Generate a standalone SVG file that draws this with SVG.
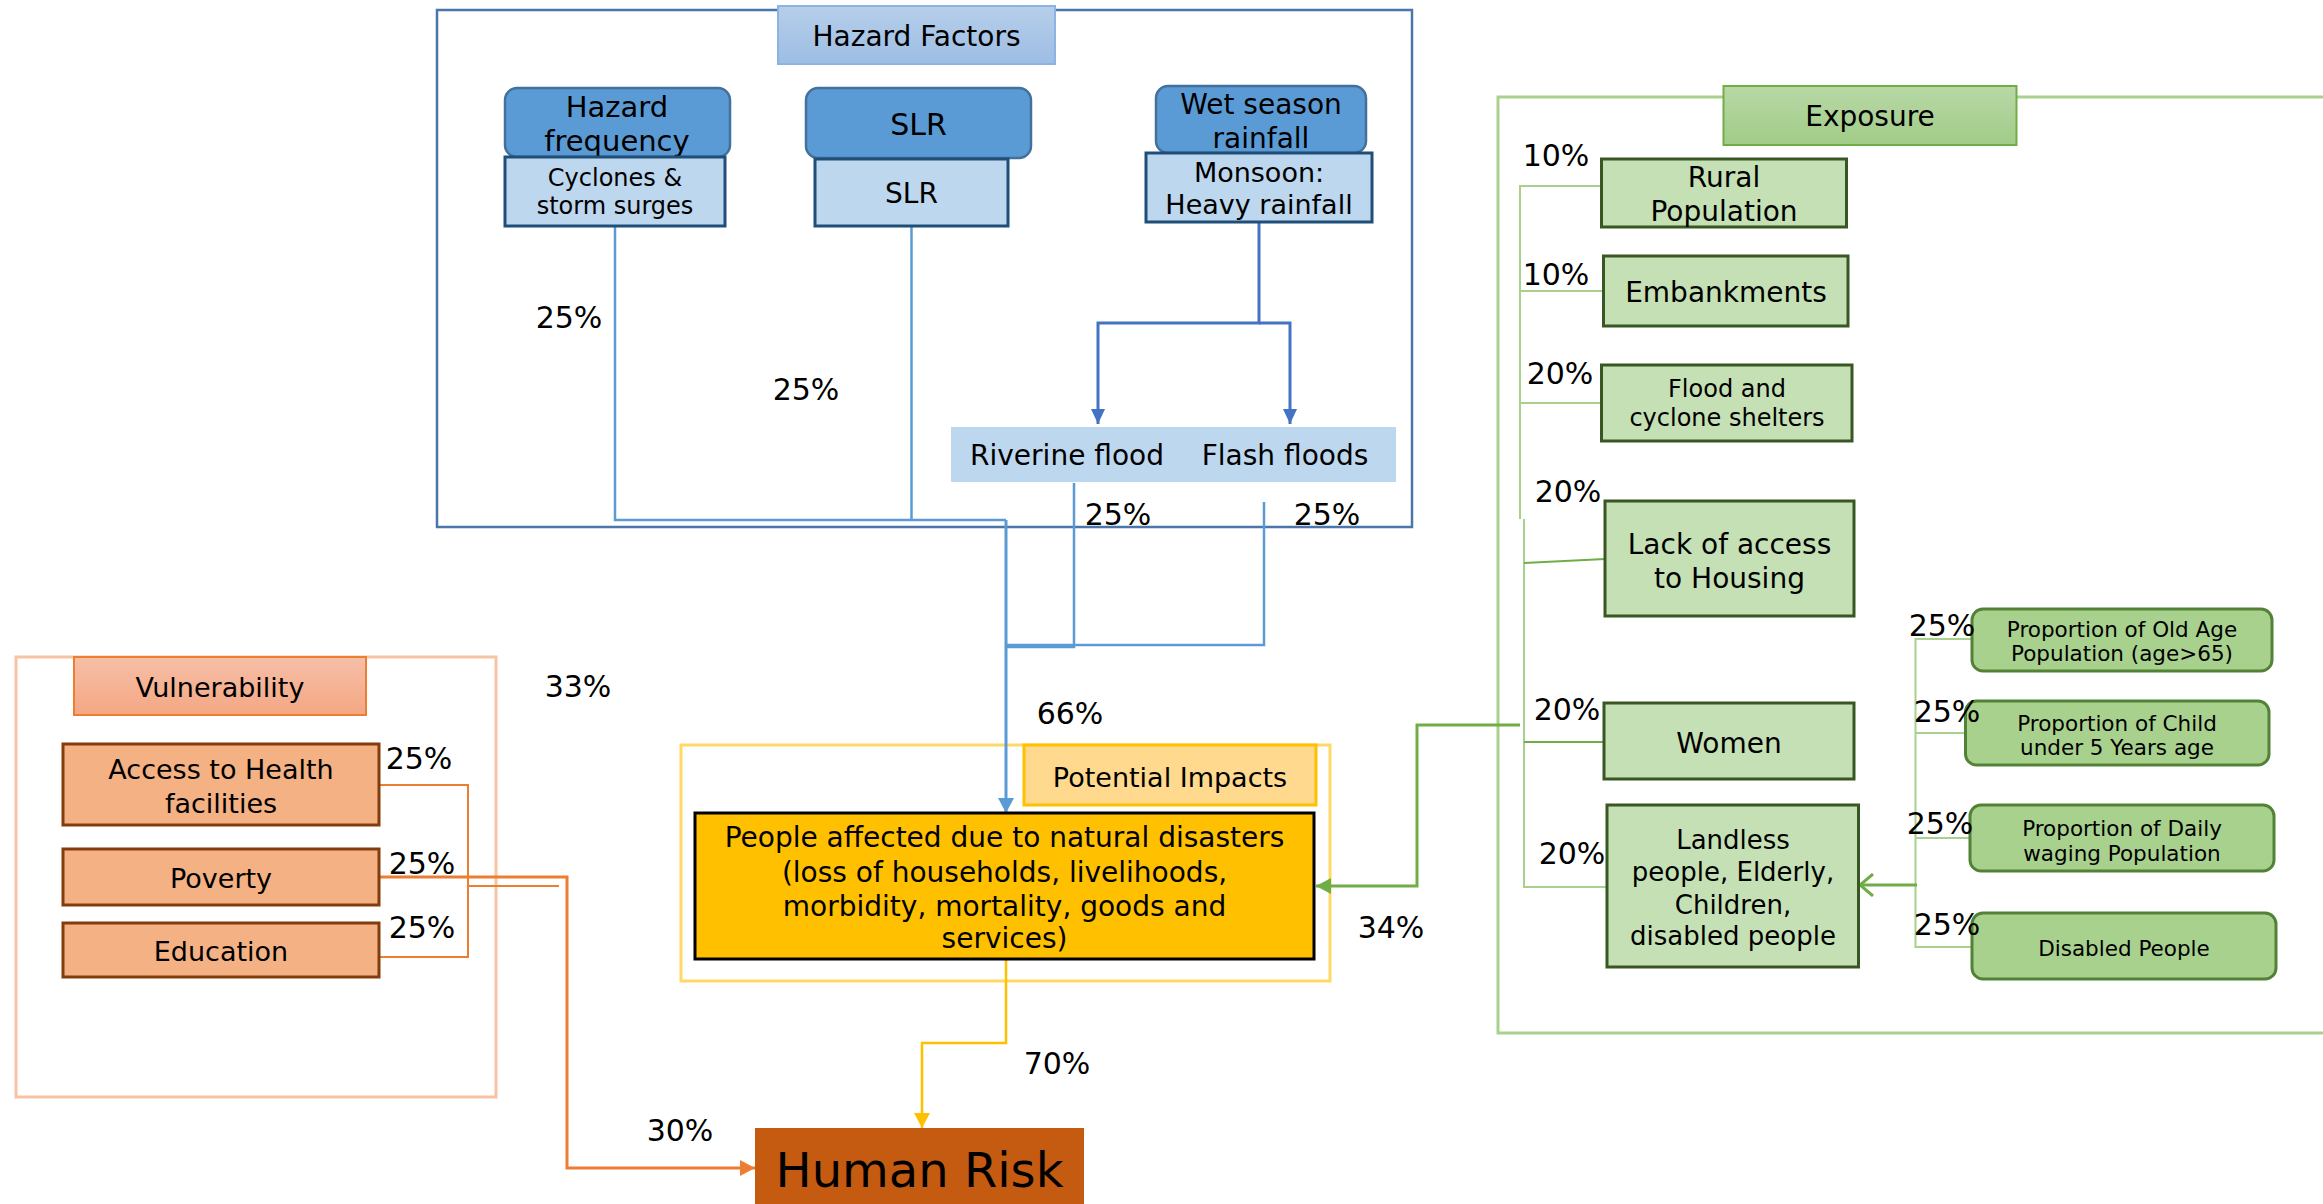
<svg xmlns="http://www.w3.org/2000/svg" width="2323" height="1204" viewBox="0 0 2323 1204">
<style>
text{font-family:"DejaVu Sans","Verdana",sans-serif;fill:#000;text-anchor:middle;dominant-baseline:central}
.pct{font-size:30px}
.dark{fill:#5b9bd5;stroke:#41719c;stroke-width:2.5}
.light{fill:#bdd7ee;stroke:#1f4e79;stroke-width:3}
.vbox{fill:#f4b183;stroke:#843c0c;stroke-width:3}
.ebox{fill:#c5e0b4;stroke:#385723;stroke-width:3}
.sbox{fill:#a9d18e;stroke:#538135;stroke-width:3}
.c{fill:none}
</style>
<defs>
<linearGradient id="gH" x1="0" y1="0" x2="0" y2="1"><stop offset="0" stop-color="#b6cfea"/><stop offset="1" stop-color="#9dbde4"/></linearGradient>
<linearGradient id="gV" x1="0" y1="0" x2="0" y2="1"><stop offset="0" stop-color="#f6bfa8"/><stop offset="1" stop-color="#f4a783"/></linearGradient>
<linearGradient id="gE" x1="0" y1="0" x2="0" y2="1"><stop offset="0" stop-color="#b8d8a6"/><stop offset="1" stop-color="#a1cc88"/></linearGradient>
<marker id="aBlue" markerUnits="userSpaceOnUse" markerWidth="16" markerHeight="16" refX="15" refY="8" orient="auto"><path d="M0,0 L15,8 L0,16 Z" fill="#5b9bd5"/></marker>
<marker id="aBlue2" markerUnits="userSpaceOnUse" markerWidth="16" markerHeight="14" refX="15" refY="7" orient="auto"><path d="M0,0 L15,7 L0,14 Z" fill="#4472c4"/></marker>
<marker id="aYel" markerUnits="userSpaceOnUse" markerWidth="16" markerHeight="16" refX="15" refY="8" orient="auto"><path d="M0,0 L15,8 L0,16 Z" fill="#ffc000"/></marker>
<marker id="aOr" markerUnits="userSpaceOnUse" markerWidth="16" markerHeight="16" refX="15" refY="8" orient="auto"><path d="M0,0 L15,8 L0,16 Z" fill="#ed7d31"/></marker>
<marker id="aGr" markerUnits="userSpaceOnUse" markerWidth="16" markerHeight="16" refX="15" refY="8" orient="auto"><path d="M0,0 L15,8 L0,16 Z" fill="#70ad47"/></marker>
<marker id="aGrOpen" markerUnits="userSpaceOnUse" markerWidth="16" markerHeight="24" refX="14" refY="12" orient="auto"><path d="M1,1 L14,12 L1,23" fill="none" stroke="#70ad47" stroke-width="3"/></marker>
</defs>

<!-- containers -->
<g id="hazard-container">
<rect x="437" y="10" width="975" height="517" fill="none" stroke="#4a76aa" stroke-width="2.5"/>
</g>
<g id="vulnerability-container">
<rect x="16" y="657" width="480" height="440" fill="none" stroke="#f8c3a3" stroke-width="3"/>
</g>
<g id="impacts-container">
<rect x="681" y="745" width="649" height="236" fill="none" stroke="#ffd966" stroke-width="3"/>
</g>
<g id="exposure-container">
<path d="M2323,97 H1498 V1033 H2323" fill="none" stroke="#a9d18e" stroke-width="3"/>
</g>

<!-- connectors -->
<g id="connectors">
<!-- hazard -->
<path class="c" d="M615,226 V520 H1006" stroke="#5b9bd5" stroke-width="2.5"/>
<path class="c" d="M911.5,226 V520" stroke="#5b9bd5" stroke-width="2.5"/>
<path class="c" d="M1006,520 V813" stroke="#5b9bd5" stroke-width="3" marker-end="url(#aBlue)"/>
<path class="c" d="M1259,222 V323 H1098 V424" stroke="#4472c4" stroke-width="3" marker-end="url(#aBlue2)"/>
<path class="c" d="M1259,323 H1290 V424" stroke="#4472c4" stroke-width="3" marker-end="url(#aBlue2)"/>
<path class="c" d="M1074,483 V647 H1006" stroke="#5b9bd5" stroke-width="2.5"/>
<path class="c" d="M1264,502 V645 H1006" stroke="#5b9bd5" stroke-width="2.5"/>
<!-- impacts to risk -->
<path class="c" d="M1006,959 V1043 H922 V1128" stroke="#ffc000" stroke-width="2.5" marker-end="url(#aYel)"/>
<!-- vulnerability -->
<path class="c" d="M379,785 H468 V957 H379" stroke="#ed7d31" stroke-width="2"/>
<path class="c" d="M468,886 H559" stroke="#ed7d31" stroke-width="2"/>
<path class="c" d="M379,877 H567 V1168 H755" stroke="#ed7d31" stroke-width="3" marker-end="url(#aOr)"/>
<!-- exposure tree -->
<path class="c" d="M1601,186 H1520 V519" stroke="#a9d18e" stroke-width="2"/>
<path class="c" d="M1520,291 H1603" stroke="#a9d18e" stroke-width="2"/>
<path class="c" d="M1520,403 H1601" stroke="#a9d18e" stroke-width="2"/>
<path class="c" d="M1524,519 V887 H1607" stroke="#a9d18e" stroke-width="2"/>
<path class="c" d="M1524,563 L1605,559" stroke="#70ad47" stroke-width="2"/>
<path class="c" d="M1524,742 H1604" stroke="#70ad47" stroke-width="2"/>
<path class="c" d="M1520,725 H1417 V886 H1316" stroke="#70ad47" stroke-width="3" marker-end="url(#aGr)"/>
<!-- sub tree -->
<path class="c" d="M1972,639 H1915.5 V947 H1972" stroke="#a9d18e" stroke-width="2"/>
<path class="c" d="M1915.5,733 H1965.5" stroke="#a9d18e" stroke-width="2"/>
<path class="c" d="M1915.5,838 H1970" stroke="#a9d18e" stroke-width="2"/>
<path class="c" d="M1917,885 H1860" stroke="#70ad47" stroke-width="3" marker-end="url(#aGrOpen)"/>
</g>

<!-- hazard nodes -->
<g id="hazard-factors-title">
<rect x="778" y="6" width="277" height="58" fill="url(#gH)" stroke="#8db3e2" stroke-width="2"/>
<text x="916.5" y="36" font-size="28">Hazard Factors</text>
</g>
<g id="hazard-frequency">
<rect class="dark" x="505" y="88" width="225" height="69" rx="12"/>
<text x="617" y="107" font-size="29">Hazard</text>
<text x="617" y="141" font-size="29">frequency</text>
</g>
<g id="cyclones">
<rect class="light" x="505" y="157" width="220" height="69"/>
<text x="615" y="178" font-size="24">Cyclones &amp;</text>
<text x="615" y="206" font-size="24">storm surges</text>
</g>
<g id="slr-header">
<rect class="dark" x="806" y="88" width="225" height="70" rx="12"/>
<text x="918.5" y="124" font-size="30">SLR</text>
</g>
<g id="slr">
<rect class="light" x="815" y="159" width="193" height="67"/>
<text x="911.5" y="193" font-size="28">SLR</text>
</g>
<g id="wet-season">
<rect class="dark" x="1156" y="86" width="210" height="67" rx="12"/>
<text x="1261" y="104" font-size="28">Wet season</text>
<text x="1261" y="138" font-size="28">rainfall</text>
</g>
<g id="monsoon">
<rect class="light" x="1146" y="153" width="226" height="69"/>
<text x="1259" y="172" font-size="27">Monsoon:</text>
<text x="1259" y="204" font-size="27">Heavy rainfall</text>
</g>
<g id="floods">
<rect x="951" y="427" width="445" height="55" fill="#bdd7ee"/>
<text x="1067" y="455" font-size="28">Riverine flood</text>
<text x="1285" y="455" font-size="28">Flash floods</text>
</g>

<!-- vulnerability nodes -->
<g id="vulnerability-title">
<rect x="74" y="657" width="292" height="58" fill="url(#gV)" stroke="#ed7d31" stroke-width="2"/>
<text x="220" y="687" font-size="27">Vulnerability</text>
</g>
<g id="access-health">
<rect class="vbox" x="63" y="744" width="316" height="81"/>
<text x="221" y="769" font-size="27">Access to Health</text>
<text x="221" y="803" font-size="27">facilities</text>
</g>
<g id="poverty">
<rect class="vbox" x="63" y="849" width="316" height="56"/>
<text x="221" y="878" font-size="27">Poverty</text>
</g>
<g id="education">
<rect class="vbox" x="63" y="923" width="316" height="54"/>
<text x="221" y="951" font-size="27">Education</text>
</g>

<!-- impacts nodes -->
<g id="potential-impacts-title">
<rect x="1024" y="745" width="292" height="60" fill="#ffd98e" stroke="#ffc000" stroke-width="3"/>
<text x="1170" y="777" font-size="27">Potential Impacts</text>
</g>
<g id="people-affected">
<rect x="695" y="813" width="619" height="146" fill="#ffc000" stroke="#000" stroke-width="3"/>
<text x="1004.5" y="837" font-size="28">People affected due to natural disasters</text>
<text x="1004.5" y="872" font-size="28">(loss of households, livelihoods,</text>
<text x="1004.5" y="906" font-size="28">morbidity, mortality, goods and</text>
<text x="1004.5" y="938" font-size="28">services)</text>
</g>
<g id="human-risk">
<rect x="755" y="1128" width="329" height="76" fill="#c55a11"/>
<text x="919.5" y="1170" font-size="48">Human Risk</text>
</g>

<!-- exposure nodes -->
<g id="exposure-title">
<rect x="1723.5" y="86" width="293" height="59" fill="url(#gE)" stroke="#70ad47" stroke-width="2"/>
<text x="1870" y="116" font-size="28">Exposure</text>
</g>
<g id="rural-population">
<rect class="ebox" x="1601.5" y="159" width="245" height="68"/>
<text x="1724" y="177" font-size="28">Rural</text>
<text x="1724" y="211" font-size="28">Population</text>
</g>
<g id="embankments">
<rect class="ebox" x="1603.5" y="256" width="244.5" height="70"/>
<text x="1726" y="292" font-size="28">Embankments</text>
</g>
<g id="shelters">
<rect class="ebox" x="1601.5" y="365" width="250.5" height="76"/>
<text x="1727" y="389" font-size="24">Flood and</text>
<text x="1727" y="417.5" font-size="24">cyclone shelters</text>
</g>
<g id="housing">
<rect class="ebox" x="1605" y="501" width="249" height="115"/>
<text x="1729.5" y="544" font-size="28">Lack of access</text>
<text x="1729.5" y="578" font-size="28">to Housing</text>
</g>
<g id="women">
<rect class="ebox" x="1604" y="703" width="250" height="76"/>
<text x="1729" y="743" font-size="28">Women</text>
</g>
<g id="landless">
<rect class="ebox" x="1607" y="805" width="251.5" height="162"/>
<text x="1733" y="840" font-size="26">Landless</text>
<text x="1733" y="872" font-size="26">people, Elderly,</text>
<text x="1733" y="905" font-size="26">Children,</text>
<text x="1733" y="936" font-size="26">disabled people</text>
</g>
<g id="old-age">
<rect class="sbox" x="1972" y="609" width="300" height="62" rx="11"/>
<text x="2122" y="629" font-size="21.5">Proportion of Old Age</text>
<text x="2122" y="653" font-size="21.5">Population (age&gt;65)</text>
</g>
<g id="child">
<rect class="sbox" x="1965.5" y="701" width="303.5" height="64" rx="11"/>
<text x="2117" y="723" font-size="21.5">Proportion of Child</text>
<text x="2117" y="747" font-size="21.5">under 5 Years age</text>
</g>
<g id="daily-waging">
<rect class="sbox" x="1970" y="805" width="304" height="66" rx="11"/>
<text x="2122" y="828" font-size="21.5">Proportion of Daily</text>
<text x="2122" y="853" font-size="21.5">waging Population</text>
</g>
<g id="disabled">
<rect class="sbox" x="1972" y="913" width="304" height="66" rx="11"/>
<text x="2124" y="948" font-size="21.5">Disabled People</text>
</g>

<!-- percentage labels -->
<g id="labels">
<text class="pct" x="569" y="317">25%</text>
<text class="pct" x="806" y="389">25%</text>
<text class="pct" x="1118" y="514">25%</text>
<text class="pct" x="1327" y="514">25%</text>
<text class="pct" x="1070" y="713">66%</text>
<text class="pct" x="578" y="686">33%</text>
<text class="pct" x="419" y="758">25%</text>
<text class="pct" x="422" y="863">25%</text>
<text class="pct" x="422" y="927">25%</text>
<text class="pct" x="1057" y="1063">70%</text>
<text class="pct" x="680" y="1130">30%</text>
<text class="pct" x="1391" y="927">34%</text>
<text class="pct" x="1556" y="155">10%</text>
<text class="pct" x="1556" y="274">10%</text>
<text class="pct" x="1560" y="373">20%</text>
<text class="pct" x="1568" y="491">20%</text>
<text class="pct" x="1567" y="709">20%</text>
<text class="pct" x="1572" y="853">20%</text>
<text class="pct" x="1942" y="625">25%</text>
<text class="pct" x="1947" y="711">25%</text>
<text class="pct" x="1940" y="823">25%</text>
<text class="pct" x="1947" y="924">25%</text>
</g>
</svg>
